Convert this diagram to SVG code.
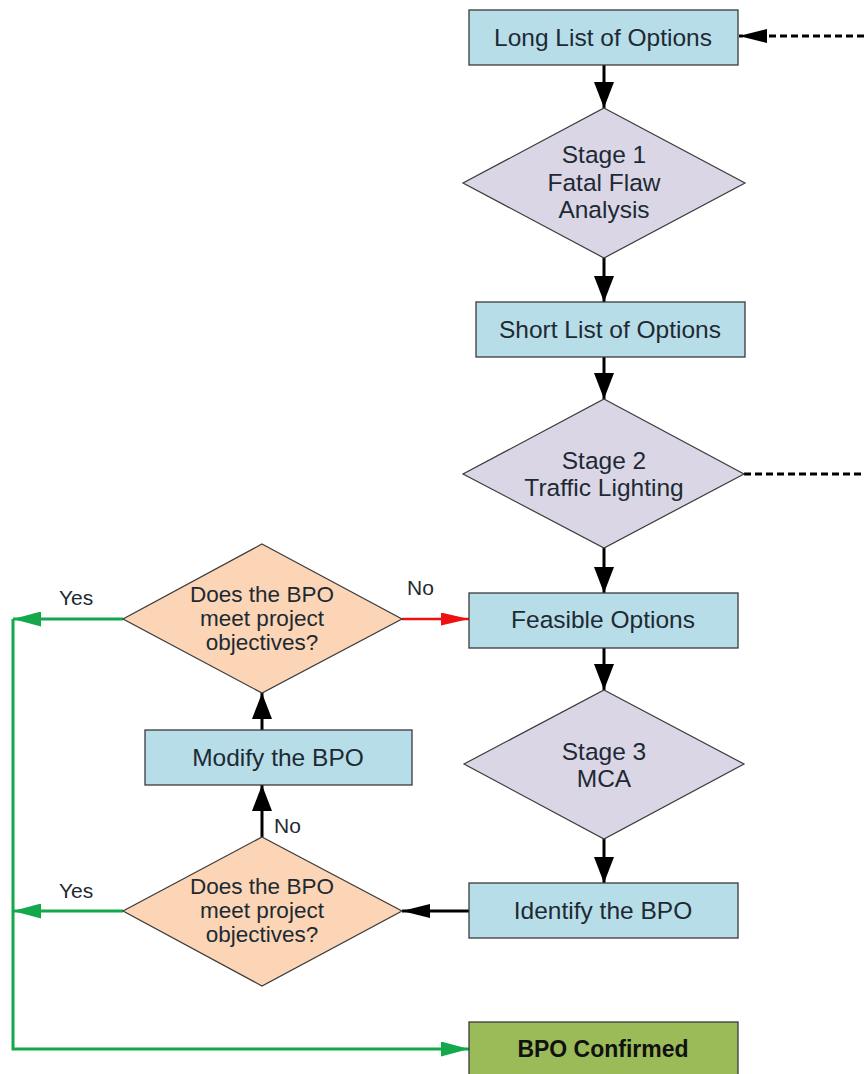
<svg xmlns="http://www.w3.org/2000/svg" width="864" height="1074" viewBox="0 0 864 1074">
<style>
.box{fill:#b7dde8;stroke:#3a3a3a;stroke-width:1.3}
.stage{fill:#dad6e6;stroke:#3a3a3a;stroke-width:1.2}
.dec{fill:#fbd5b5;stroke:#3a3a3a;stroke-width:1.2}
.ok{fill:#9bbb59;stroke:#3a3a3a;stroke-width:1.3}
text{font-family:"Liberation Sans",Arial,sans-serif;fill:#1e2a33;text-anchor:middle}
.t{font-size:24.5px}
.d{font-size:22.5px}
.lbl{font-size:21px;text-anchor:start}
.b{font-size:23px;font-weight:bold;fill:#111}
.blk{stroke:#000;stroke-width:3;fill:none}
.grn{stroke:#12a84b;stroke-width:3;fill:none}
.red{stroke:#ee1111;stroke-width:2.5;fill:none}
.dash{stroke:#000;stroke-width:3;fill:none;stroke-dasharray:7 4}
</style>
<defs>
<marker id="av" markerUnits="userSpaceOnUse" markerWidth="26" markerHeight="20" refX="26" refY="10" orient="auto"><path d="M0,0 L26,10 L0,20 Z" fill="#000"/></marker>
<marker id="ah" markerUnits="userSpaceOnUse" markerWidth="28" markerHeight="14" refX="28" refY="7" orient="auto"><path d="M0,0 L28,7 L0,14 Z" fill="#000"/></marker>
<marker id="ag" markerUnits="userSpaceOnUse" markerWidth="28" markerHeight="15" refX="28" refY="7.5" orient="auto"><path d="M0,0 L28,7.5 L0,15 Z" fill="#12a84b"/></marker>
<marker id="ar" markerUnits="userSpaceOnUse" markerWidth="28" markerHeight="13" refX="28" refY="6.5" orient="auto"><path d="M0,0 L28,6.5 L0,13 Z" fill="#ee1111"/></marker>
</defs>
<g id="connectors">
<line class="blk" x1="604" y1="65" x2="604" y2="108" marker-end="url(#av)"/>
<line class="blk" x1="604" y1="258" x2="604" y2="302" marker-end="url(#av)"/>
<line class="blk" x1="604" y1="357" x2="604" y2="399" marker-end="url(#av)"/>
<line class="blk" x1="604" y1="548" x2="604" y2="593" marker-end="url(#av)"/>
<line class="blk" x1="604" y1="648" x2="604" y2="690" marker-end="url(#av)"/>
<line class="blk" x1="604" y1="839" x2="604" y2="883" marker-end="url(#av)"/>
<line class="blk" x1="262" y1="837" x2="262" y2="785" marker-end="url(#av)"/>
<line class="blk" x1="262" y1="730" x2="262" y2="693" marker-end="url(#av)"/>
<line class="blk" x1="469" y1="911" x2="402" y2="911" marker-end="url(#ah)"/>
<line class="dash" x1="864" y1="36" x2="739" y2="36" marker-end="url(#ah)"/>
<line class="dash" x1="744" y1="474" x2="864" y2="474"/>
<line class="red" x1="402" y1="619" x2="469" y2="619" marker-end="url(#ar)"/>
<line class="grn" x1="123" y1="619" x2="13" y2="619" marker-end="url(#ag)"/>
<line class="grn" x1="123" y1="911" x2="13" y2="911" marker-end="url(#ag)"/>
<polyline class="grn" points="13,619 13,1049 469,1049" marker-end="url(#ag)"/>
<text class="lbl" x="59" y="605">Yes</text>
<text class="lbl" x="407" y="595">No</text>
<text class="lbl" x="59" y="898">Yes</text>
<text class="lbl" x="274" y="833">No</text>
</g>
<g id="long-list">
<rect class="box" x="469" y="10" width="269" height="55"/>
<text class="t" x="603" y="46">Long List of Options</text>
</g>
<g id="stage1">
<polygon class="stage" points="604,108 745,183 604,258 463,183"/>
<text class="t" x="604" y="163">Stage 1</text>
<text class="t" x="604" y="191">Fatal Flaw</text>
<text class="t" x="604" y="218">Analysis</text>
</g>
<g id="short-list">
<rect class="box" x="476" y="302" width="269" height="55"/>
<text class="t" x="610" y="338">Short List of Options</text>
</g>
<g id="stage2">
<polygon class="stage" points="604,399 744,474 604,548 463,474"/>
<text class="t" x="604" y="469">Stage 2</text>
<text class="t" x="604" y="496">Traffic Lighting</text>
</g>
<g id="feasible">
<rect class="box" x="469" y="593" width="269" height="55"/>
<text class="t" x="603" y="628">Feasible Options</text>
</g>
<g id="stage3">
<polygon class="stage" points="604,690 744,764 604,839 464,764"/>
<text class="t" x="604" y="760">Stage 3</text>
<text class="t" x="604" y="787">MCA</text>
</g>
<g id="identify">
<rect class="box" x="469" y="883" width="269" height="55"/>
<text class="t" x="603" y="919">Identify the BPO</text>
</g>
<g id="decision-lower">
<polygon class="dec" points="262,837 402,911 262,986 123,911"/>
<text class="d" x="262" y="894">Does the BPO</text>
<text class="d" x="262" y="918">meet project</text>
<text class="d" x="262" y="942">objectives?</text>
</g>
<g id="modify">
<rect class="box" x="145" y="730" width="267" height="55"/>
<text class="t" x="278" y="766">Modify the BPO</text>
</g>
<g id="decision-upper">
<polygon class="dec" points="262,544 402,619 262,693 123,619"/>
<text class="d" x="262" y="602">Does the BPO</text>
<text class="d" x="262" y="626">meet project</text>
<text class="d" x="262" y="650">objectives?</text>
</g>
<g id="bpo-confirmed">
<rect class="ok" x="469" y="1022" width="269" height="60"/>
<text class="b" x="603" y="1057">BPO Confirmed</text>
</g>
</svg>
